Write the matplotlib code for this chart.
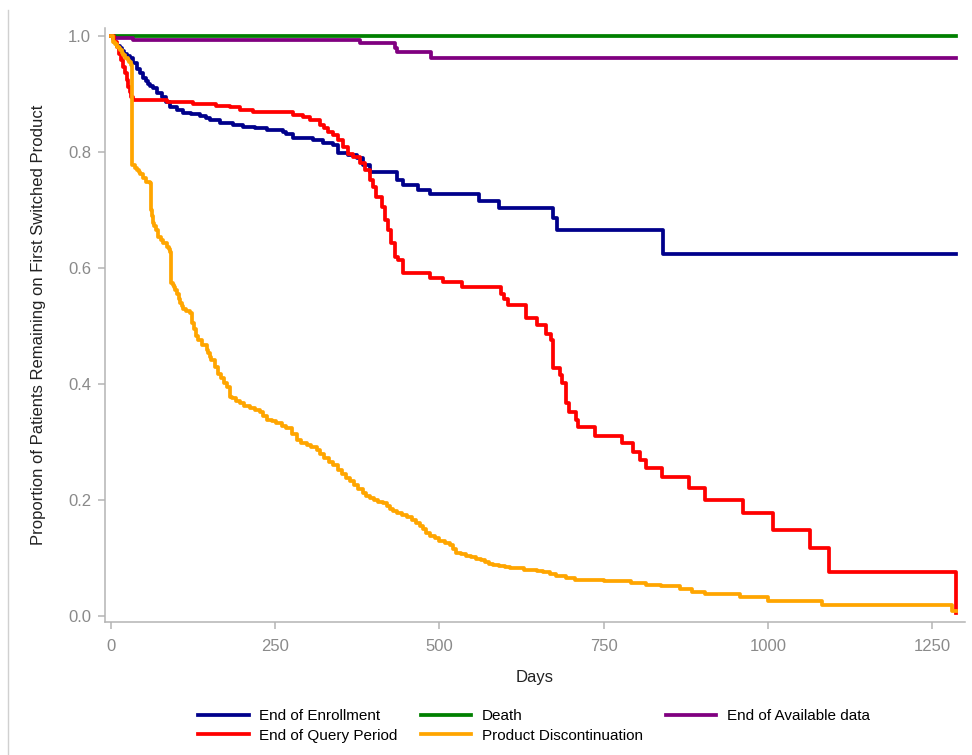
import matplotlib
matplotlib.use("Agg")
import matplotlib.pyplot as plt
from matplotlib.lines import Line2D

plt.rcParams['font.family'] = ['Liberation Sans', 'DejaVu Sans']

# ---- data (days, proportion remaining) ----
enroll_days = [0, 3, 5, 8, 10, 14, 17, 20, 25, 29, 34, 39, 44, 49, 53, 56, 60, 64, 70, 77,
               84, 90, 100, 110, 122, 135, 145, 151, 166, 186, 201, 220, 237, 262, 267,
               277, 308, 323, 338, 346, 361, 374, 384, 394, 435, 445, 468, 486, 560, 590,
               673, 679, 840, 1287]
enroll_surv = [1.0, 0.995, 0.99, 0.986, 0.983, 0.979, 0.975, 0.97, 0.966, 0.962, 0.953,
               0.944, 0.936, 0.927, 0.922, 0.918, 0.914, 0.910, 0.902, 0.895, 0.886, 0.878,
               0.872, 0.868, 0.866, 0.863, 0.858, 0.855, 0.851, 0.847, 0.844, 0.841, 0.838,
               0.835, 0.832, 0.824, 0.821, 0.815, 0.812, 0.798, 0.795, 0.789, 0.778, 0.766,
               0.752, 0.743, 0.734, 0.728, 0.716, 0.703, 0.686, 0.666, 0.625, 0.625]

query_days = [0, 4, 9, 12, 16, 19, 21, 24, 26, 29, 31, 34, 85, 125, 160, 181, 196, 217,
              277, 293, 303, 318, 325, 331, 338, 346, 354, 361, 369, 379, 387, 394, 399,
              404, 412, 417, 422, 427, 432, 437, 445, 486, 506, 534, 594, 598, 605, 632,
              648, 663, 670, 673, 684, 687, 693, 697, 708, 711, 737, 778, 794, 805, 814,
              839, 880, 905, 962, 1008, 1064, 1093, 1287]
query_surv = [1.0, 0.99, 0.982, 0.97, 0.959, 0.947, 0.936, 0.925, 0.913, 0.903, 0.895,
              0.890, 0.887, 0.883, 0.879, 0.877, 0.872, 0.869, 0.864, 0.861, 0.856, 0.847,
              0.841, 0.835, 0.829, 0.821, 0.809, 0.797, 0.792, 0.781, 0.769, 0.752, 0.740,
              0.723, 0.706, 0.683, 0.666, 0.643, 0.619, 0.614, 0.591, 0.582, 0.576, 0.568,
              0.556, 0.546, 0.536, 0.513, 0.502, 0.487, 0.476, 0.427, 0.416, 0.401, 0.367,
              0.352, 0.338, 0.326, 0.311, 0.298, 0.283, 0.269, 0.255, 0.240, 0.220, 0.200,
              0.177, 0.148, 0.117, 0.076, 0.005]

death_days = [0, 1287]
death_surv = [1.0, 1.0]

avail_days = [0, 3, 33, 379, 432, 435, 487, 1287]
avail_surv = [1.0, 0.996, 0.994, 0.988, 0.980, 0.973, 0.963, 0.963]

disc_days = [0, 3, 6, 9, 12, 14, 17, 19, 22, 26, 28, 30, 32, 36, 39, 42, 44, 49, 54, 59,
             61, 62, 64, 66, 69, 72, 76, 80, 85, 88, 90, 91, 94, 96, 98, 100, 103, 105,
             108, 110, 115, 120, 123, 126, 130, 133, 139, 146, 148, 151, 153, 158, 163,
             167, 172, 176, 181, 184, 190, 196, 203, 211, 219, 227, 232, 237, 245, 252,
             260, 267, 275, 283, 290, 298, 305, 313, 319, 325, 332, 338, 345, 351, 358,
             364, 370, 376, 383, 389, 395, 400, 407, 414, 420, 425, 430, 435, 443, 450,
             458, 465, 470, 475, 480, 486, 493, 500, 508, 516, 521, 526, 533, 540, 548,
             556, 563, 570, 576, 582, 591, 600, 608, 617, 628, 640, 649, 658, 668, 678,
             692, 706, 750, 792, 815, 838, 866, 885, 904, 957, 1000, 1082, 1280, 1287]
disc_surv = [1.0, 0.99, 0.986, 0.982, 0.979, 0.976, 0.971, 0.967, 0.963, 0.959, 0.955,
             0.951, 0.778, 0.773, 0.769, 0.766, 0.763, 0.756, 0.749, 0.746, 0.700, 0.690,
             0.677, 0.672, 0.666, 0.654, 0.648, 0.643, 0.637, 0.632, 0.628, 0.574, 0.571,
             0.568, 0.562, 0.556, 0.547, 0.539, 0.534, 0.530, 0.526, 0.522, 0.505, 0.494,
             0.482, 0.476, 0.468, 0.459, 0.453, 0.447, 0.441, 0.430, 0.418, 0.410, 0.402,
             0.395, 0.378, 0.375, 0.371, 0.367, 0.362, 0.358, 0.355, 0.352, 0.345, 0.338,
             0.336, 0.333, 0.328, 0.324, 0.314, 0.303, 0.299, 0.295, 0.291, 0.286, 0.280,
             0.273, 0.266, 0.260, 0.252, 0.245, 0.238, 0.232, 0.226, 0.219, 0.212, 0.206,
             0.203, 0.200, 0.197, 0.194, 0.189, 0.185, 0.181, 0.177, 0.174, 0.170, 0.165,
             0.160, 0.155, 0.150, 0.143, 0.137, 0.134, 0.130, 0.126, 0.122, 0.115, 0.108,
             0.106, 0.104, 0.101, 0.099, 0.096, 0.093, 0.090, 0.088, 0.086, 0.085, 0.083,
             0.082, 0.080, 0.079, 0.077, 0.076, 0.072, 0.068, 0.065, 0.062, 0.060, 0.056,
             0.054, 0.051, 0.046, 0.042, 0.038, 0.033, 0.025, 0.018, 0.009, 0.009]

x_ticks = [0, 250, 500, 750, 1000, 1250]
y_ticks = [0.0, 0.2, 0.4, 0.6, 0.8, 1.0]

# ---- figure ----
fig = plt.figure(figsize=(9.72, 7.55), dpi=100)
ax = fig.add_axes([105 / 972, 1 - 622 / 755, 860 / 972, 594 / 755])

lw = 2.7
l_enr, = ax.step(enroll_days, enroll_surv, where='post', color='#00008b', lw=lw, label='End of Enrollment')
l_dth, = ax.step(death_days, death_surv, where='post', color='#008000', lw=lw, label='Death')
l_av, = ax.step(avail_days, avail_surv, where='post', color='#800080', lw=lw, label='End of Available data')
l_q, = ax.step(query_days, query_surv, where='post', color='#ff0000', lw=lw, label='End of Query Period')
l_dis, = ax.step(disc_days, disc_surv, where='post', color='#ffa500', lw=lw, label='Product Discontinuation')

ax.set_xlim(-9, 1300)
ax.set_ylim(-0.0105, 1.014)
ax.set_xticks(x_ticks)
ax.set_yticks(y_ticks)
ax.set_yticklabels(["%.1f" % v for v in y_ticks])

for s in ['top', 'right']:
    ax.spines[s].set_visible(False)
for s in ['left', 'bottom']:
    ax.spines[s].set_color('#b4b4b4')
    ax.spines[s].set_linewidth(1.1)

ax.tick_params(axis='both', colors='#b4b4b4', labelcolor='#8a8a8a', labelsize=12, width=1.1)
ax.tick_params(axis='y', length=5, pad=5)
ax.tick_params(axis='x', length=5, pad=7)

ax.set_xlabel('Days', fontsize=12, color='#222222', labelpad=12)
ax.set_ylabel('Proportion of Patients Remaining on First Switched Product', fontsize=12,
              color='#222222', labelpad=16)

# legend: row-wise order in 3 columns
handles = [l_enr, l_q, l_dth, l_dis, l_av]
fig.legend(handles=handles, labels=[h.get_label() for h in handles], ncol=3,
           loc='center', bbox_to_anchor=(534 / 972, 1 - 726 / 755), frameon=False,
           fontsize=11, handlelength=3.3, handletextpad=0.7, columnspacing=1.5,
           labelspacing=0.35)

# faint frame line on the left edge
fig.add_artist(Line2D([8 / 972, 8 / 972], [0, 1 - 10 / 755], transform=fig.transFigure,
                      color='#d0d0d0', lw=1))

fig.savefig('out.png', dpi=100)
